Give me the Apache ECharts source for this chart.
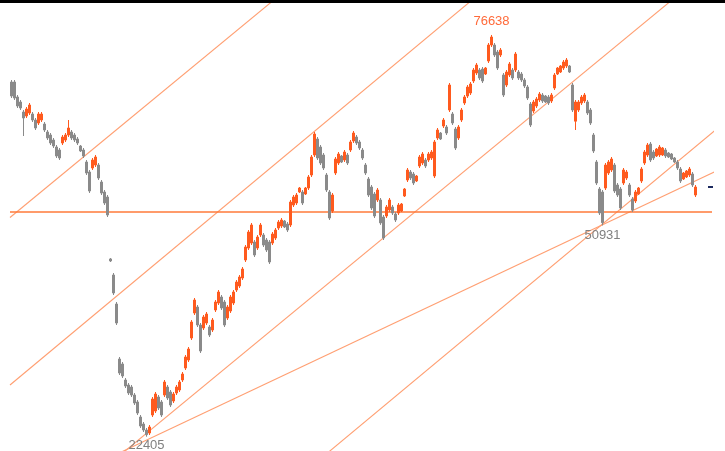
<!DOCTYPE html>
<html><head><meta charset="utf-8">
<script src="https://cdn.jsdelivr.net/npm/echarts@6/dist/echarts.min.js"></script>
<style>html,body{margin:0;padding:0;background:#fff;overflow:hidden}#c{width:725px;height:451px}</style>
</head><body><div id="c"></div><script>
const opens=[70290,70290,68265,67590,66240,65700,66105,65970,65160,64755,
65160,64620,63540,63135,62460,61515,61110,62055,62460,63135,
63540,63135,62595,61650,61110,59490,58140,58680,59085,59085,
56790,55440,54765,46400,44235,40320,32895,32220,30060,29385,
29115,28035,27090,25065,24120,23310,22905,25335,25875,27765,
27090,28035,29115,28440,27225,28305,28710,30060,31680,32760,
35730,39105,39915,37485,37080,37755,37215,36810,39510,40455,
41265,40590,38430,39375,40455,42210,42750,43830,46260,47880,
48555,48690,47880,49635,49635,48960,48690,48555,49230,50580,
50850,51525,51120,50985,53685,53955,55440,55440,55170,55980,
57735,60435,62595,61515,60435,57735,55440,52875,58005,59355,
60300,59760,60435,61110,62325,62865,62190,61110,59085,57195,
56115,55170,54360,54360,52065,52200,53010,53415,52470,52605,
52875,54900,57060,58140,57870,56925,58950,59355,59760,59760,
60030,57600,62730,63405,64350,64215,66510,65970,63945,62730,
65160,67455,68400,68805,70425,71505,71910,72045,71370,73125,
75285,75285,74340,73935,71235,69885,71235,71910,71910,71640,
71370,70560,69615,67320,66375,67050,67860,68535,68400,68265,
67725,69480,71370,71640,72180,72450,72450,69885,65000,66510,
67455,67725,67590,66510,63135,59490,55845,55440,55980,58005,
58410,59085,56385,55845,56655,57330,56385,54495,54225,55170,
56925,59355,60435,61920,60840,60300,60435,60435,61110,60705,
60570,60030,59490,58545,57195,57465,57735,57870,55035];
const closes=[68400,68130,67050,66780,65430,66645,67185,65160,64080,65970,
65970,63810,62730,62055,61650,60300,60030,62865,63135,64080,
62730,62460,62055,60975,60300,58005,55575,59760,60165,57330,
55305,53955,52335,46130,41805,37755,31005,30600,29250,28305,
28035,26955,25605,23850,23310,22680,23715,27495,28170,26280,
25335,29790,27630,26685,28170,29115,29790,30870,33165,34245,
37890,40860,37485,33975,38565,38970,36135,38160,40590,41940,
39780,37485,39915,41265,41940,43290,43965,45045,48015,50040,
50985,46935,49365,50985,48285,47610,45990,49770,50310,51390,
51660,50715,50310,54090,54765,55035,55980,53955,55980,57465,
60165,63270,60030,59355,58680,55710,51930,55035,59895,60570,
59490,60840,59355,62190,63405,62055,61380,60030,58005,55035,
53280,52200,55710,51270,49230,53415,54360,52605,51660,53685,
53820,55845,58410,57330,56655,57600,60165,60570,58950,60570,
60840,62190,63810,62595,65160,63405,69885,64755,61380,64215,
66510,68265,69615,70020,71910,72585,70830,70425,72180,75285,
76365,73935,72180,74610,68535,71640,72720,70830,74070,70830,
70560,69750,68130,64485,67590,67995,68670,67725,67590,67455,
68535,71235,72180,72450,72990,73260,71640,66510,67590,67590,
68265,68535,66105,64755,60975,56655,52605,51300,59085,59490,
59895,55575,55035,53280,58410,58140,55035,53010,55440,55980,
58545,60840,61785,59760,60030,61245,61515,61380,60300,60165,
59895,59490,58680,56925,58005,58275,58545,56385,56115];
const lows=[68130,67860,66780,66510,63000,65430,65835,64890,63810,64485,
64890,63540,62460,61785,61380,60030,59760,61785,62190,62865,
62460,62190,61785,60840,60030,57735,55305,58410,58815,57060,
55035,53685,52065,45990,41535,37485,30735,30330,28980,28035,
27765,26685,25335,23580,23040,22405,22635,25065,25605,26010,
25065,27765,27360,26415,26955,28035,28440,29790,31410,32490,
35460,38835,37215,33705,36810,37485,35865,36540,39240,40185,
39510,37215,38160,39105,40185,41940,42480,43560,45990,47610,
48285,46665,47610,49365,48015,47340,45720,48285,48960,50310,
50580,50580,50040,50715,53415,53685,55305,53685,55035,55710,
57465,60165,59760,59085,58410,55440,51660,52605,57735,59085,
59355,59490,59085,60840,62055,61785,61110,59760,57735,54765,
53010,51930,54090,51000,48960,51930,52740,52335,51390,52335,
52740,54765,56790,57060,56385,56790,58680,59085,58680,59490,
59760,57330,62460,62460,64080,63135,66240,64485,61110,62460,
64890,67185,68130,68535,70155,71235,70560,70155,71235,72855,
75015,73665,71910,73665,68265,69615,70965,70560,71640,70560,
70290,69480,67860,64215,66105,66780,67590,67455,67455,67185,
67455,69210,71235,71505,71910,72180,71505,66240,63810,66240,
67185,67455,65835,64485,60705,56385,52335,50931,55710,57735,
58140,55305,54765,53010,56385,57060,54765,52740,53955,55035,
56655,59085,60165,59490,59760,60165,60165,60300,60030,60030,
59760,59355,58410,56655,57060,57330,57465,56115,54765];
const highs=[70560,70560,68535,67860,66510,66915,67455,66240,65430,66240,
66240,64890,63810,63405,62730,61785,61380,63135,63405,65160,
63810,63405,62865,61785,61380,59760,58410,60030,60435,59355,
57060,55710,55035,46530,44505,40590,33165,32490,30330,29655,
29385,28305,27360,25335,24390,23580,23985,27765,28440,28035,
27360,30060,29385,28710,28440,29385,30060,31140,33435,34515,
38160,41130,40185,37755,38835,39240,37485,38430,40860,42210,
41535,40860,40185,41535,42210,43560,44235,45315,48285,50310,
51255,48960,49635,51255,49905,49230,48960,50040,50580,51660,
51930,51660,51390,54360,55035,55305,56115,55710,56115,57735,
60435,63540,62865,61785,60705,58005,55710,55305,60165,60840,
60435,61110,60705,62460,63675,63135,62460,61380,59355,57465,
56385,55440,55980,54630,52335,53685,54630,53685,52740,53955,
53955,55980,58680,58410,58140,57735,60435,60840,60030,60840,
61110,62460,64080,63540,65430,64485,70155,66240,64215,64485,
66780,68535,69885,70290,72180,72855,72180,72315,72315,75555,
76638,75555,74610,74880,71505,71910,72990,72180,74340,71910,
71640,70830,69885,67590,67860,68265,68940,68805,68535,68535,
68805,71505,72315,72585,73260,73530,72585,70155,67860,67860,
68535,68805,67860,66780,63405,59760,56115,55710,59355,59760,
60165,59355,56655,56115,58680,58410,56655,54765,55710,56115,
58815,61110,62055,62190,61110,61380,61785,61515,61380,60840,
60705,60165,59760,58815,58140,58410,58815,58140,56385];

// 234 trading-day slots across the plot; the last few are empty
const slotCount = 234;
const categories = Array.from({length: slotCount}, (_, i) => String(i + 1));

// trend lines as [slot index, price] endpoints
const levelLine  = [[-0.5, 52740], [233.5, 52740]];
const channelA   = [[-0.5, 52000], [96.2, 84280]];
const channelB   = [[-0.5, 29385], [162.8, 84490]];
const channelC   = [[29.5, 17690], [229.5, 84480]];
const channelD   = [[96.2, 17130], [237.8, 64860]];
const supportE   = [[29.5, 18980], [237.8, 58815]];

const lowLabelIndex = 197, lowLabelValue = 50931;

const candles = opens.map((o, i) => [o, closes[i], lows[i], highs[i]]);
const UP = '#ff5a1e', DOWN = '#8a8a8a', CH = '#ff9f72', LVL = '#ff7a3a';
const LABEL_FONT = "'Liberation Sans Narrow','Arial Narrow','Liberation Sans',sans-serif";

function trend(data, color, width) {
  return {type:'line', xAxisIndex:1, yAxisIndex:0, data, symbol:'none', silent:true,
    lineStyle:{color, width}, z:3, clip:true, animation:false};
}

const chart = echarts.init(document.getElementById('c'), null, {renderer:'canvas'});
chart.setOption({
  animation:false,
  backgroundColor:'#fff',
  grid:{left:10, right:13, top:0, bottom:0},
  xAxis:[
    {type:'category', data:categories, boundaryGap:true, show:false},
    {type:'value', min:-0.5, max:slotCount - 0.5, show:false}
  ],
  yAxis:{type:'value', min:20475, max:81360, show:false},
  graphic:[{type:'rect', shape:{x:0, y:0, width:725, height:3}, style:{fill:'#000'}, z:100}],
  series:[
    trend(channelA, CH, 1.1),
    trend(channelB, CH, 1.1),
    trend(channelC, CH, 1.1),
    trend(channelD, CH, 1.1),
    trend(supportE, CH, 1.1),
    trend(levelLine, LVL, 1.5),
    {
      type:'candlestick', data:candles, barWidth:1.6, z:5,
      itemStyle:{color:UP, color0:DOWN, borderColor:UP, borderColor0:DOWN, borderWidth:1},
      markPoint:{
        symbol:'rect', symbolSize:1, silent:true, animation:false,
        itemStyle:{color:'rgba(0,0,0,0)'},
        label:{show:true, position:'inside', fontFamily:LABEL_FONT, fontSize:13, formatter:'{c}'},
        data:[
          {type:'max', valueDim:'highest', label:{color:'#ff6a3a', offset:[0,-14]}},
          {type:'min', valueDim:'lowest', label:{color:'#808080', offset:[0,9]}},
          {coord:[lowLabelIndex, lowLabelValue], value:lowLabelValue, label:{color:'#808080', offset:[0,10]}},
          {coord:[233, closes[closes.length-1]], value:'', symbol:'rect', symbolSize:[5,2],
            itemStyle:{color:'#1c2a5e'}, label:{show:false}}
        ]
      }
    }
  ]
});
</script></body></html>
